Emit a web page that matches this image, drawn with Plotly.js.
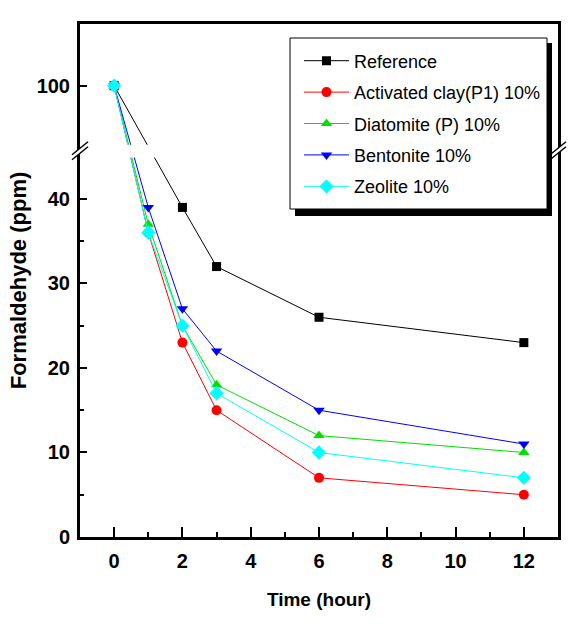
<!DOCTYPE html>
<html><head><meta charset="utf-8">
<script src="https://cdn.plot.ly/plotly-3.0.1.min.js"></script>
<style>html,body{margin:0;padding:0;background:#fff}</style>
</head><body><div id="chart" style="width:587px;height:634px"></div>
<script>
// Data (time in hours, formaldehyde in ppm)
const refX = [0, 2, 3, 6, 12];
const refY = [100, 39, 32, 26, 23];
const timeX = [0, 1, 2, 3, 6, 12];
const clayY = [100, 36, 23, 15, 7, 5];
const diatY = [100, 37, 25, 18, 12, 10];
const bentY = [100, 39, 27, 22, 15, 11];
const zeolY = [100, 36, 25, 17, 10, 7];
const names = ['Reference', 'Activated clay(P1) 10%', 'Diatomite (P) 10%', 'Bentonite 10%', 'Zeolite 10%'];
const yTickVals = [0, 10, 20, 30, 40, 100];

// Broken y-axis: values above the break are shifted down onto the compressed upper segment
const BREAK_SHIFT = 100 - 53.4;
const brk = v => (v > 50 ? v - BREAK_SHIFT : v);

const FONT = '"Liberation Sans", Arial, sans-serif';
const colors = ['#000000', '#ff0000', '#00e000', '#0000ff', '#00ffff'];
const symbols = ['square', 'circle', 'triangle-up', 'triangle-down', 'diamond'];
const sizes = [9, 10, 10, 10, 11];
const xs = [refX, timeX, timeX, timeX, timeX];
const ys = [refY, clayY, diatY, bentY, zeolY];

const traces = names.map((n, i) => ({
  x: xs[i], y: ys[i].map(brk), name: n, type: 'scatter', mode: 'lines+markers',
  legendgroup: 'g' + i,
  line: {color: colors[i], width: 1},
  marker: {color: colors[i], symbol: symbols[i], size: sizes[i]},
  hoverinfo: 'skip'
}));

const brkY = 45.7;
function breakMark(xpaper) {
  return [
    {type: 'path', xref: 'paper', yref: 'y', xsizemode: 'pixel', ysizemode: 'pixel',
     xanchor: xpaper, yanchor: brkY, layer: 'above',
     path: 'M -8 -9 L 8 4 L 8 9 L -8 -4 Z', fillcolor: '#ffffff', line: {width: 0}},
    {type: 'path', xref: 'paper', yref: 'y', xsizemode: 'pixel', ysizemode: 'pixel',
     xanchor: xpaper, yanchor: brkY, layer: 'above',
     path: 'M -8 -9 L 8 4', line: {color: '#000', width: 1.5}},
    {type: 'path', xref: 'paper', yref: 'y', xsizemode: 'pixel', ysizemode: 'pixel',
     xanchor: xpaper, yanchor: brkY, layer: 'above',
     path: 'M -8 -4 L 8 9', line: {color: '#000', width: 1.5}}
  ];
}

// paper coords helpers for legend frame (plot area 80..558 x, 24..537 y)
const px = v => (v - 80) / 478;
const py = v => (537 - v) / 513;

const shapes = [
  // gap in the data lines at the axis break
  {type: 'rect', xref: 'paper', yref: 'y', x0: 0.006, x1: 0.994, y0: 44.9, y1: 46.4,
   fillcolor: '#ffffff', line: {width: 0}, layer: 'above'},
  ...breakMark(0), ...breakMark(1),
  // legend shadow and frame
  {type: 'rect', xref: 'paper', yref: 'paper', x0: px(295), x1: px(552), y0: py(216), y1: py(43),
   fillcolor: '#000000', line: {width: 0}, layer: 'above'},
  {type: 'rect', xref: 'paper', yref: 'paper', x0: px(290), x1: px(547), y0: py(209), y1: py(38),
   fillcolor: '#ffffff', line: {color: '#000', width: 1}, layer: 'above'}
];

const layout = {
  width: 587, height: 634,
  margin: {l: 80, r: 29, t: 24, b: 97},
  paper_bgcolor: '#fff', plot_bgcolor: '#fff',
  showlegend: true,
  legend: {x: px(299), y: py(42.5), xanchor: 'left', yanchor: 'top',
    bgcolor: 'rgba(0,0,0,0)', borderwidth: 0,
    font: {family: FONT, size: 18, color: '#000'}, itemwidth: 45, tracegroupgap: 5},
  xaxis: {range: [-1, 13], tickvals: [0, 2, 4, 6, 8, 10, 12],
    ticks: 'inside', ticklen: 10, tickwidth: 2, tickcolor: '#000',
    minor: {dtick: 1, tick0: 1, ticks: 'inside', ticklen: 5, tickwidth: 2, tickcolor: '#000'},
    showline: true, linewidth: 3, linecolor: '#000', mirror: true,
    showgrid: false, zeroline: false,
    tickfont: {family: FONT, size: 20, color: '#000', weight: 'bold'},
    ticklabelstandoff: 4,
    title: {text: 'Time (hour)', font: {family: FONT, size: 19, color: '#000', weight: 'bold'}, standoff: 22}},
  yaxis: {range: [0, 60.7], tickvals: yTickVals.map(brk), ticktext: yTickVals.map(String),
    ticks: 'inside', ticklen: 7, tickwidth: 2, tickcolor: '#000',
    minor: {tickvals: [5, 15, 25, 35], ticks: 'inside', ticklen: 4, tickwidth: 2, tickcolor: '#000'},
    showline: true, linewidth: 3, linecolor: '#000', mirror: true,
    showgrid: false, zeroline: false,
    tickfont: {family: FONT, size: 20, color: '#000', weight: 'bold'},
    ticklabelstandoff: 3,
    title: {text: 'Formaldehyde (ppm)', font: {family: FONT, size: 22, color: '#000', weight: 'bold'}, standoff: 4}},
  shapes: shapes
};

Plotly.newPlot('chart', traces, layout, {displayModeBar: false, staticPlot: true});
</script></body></html>
